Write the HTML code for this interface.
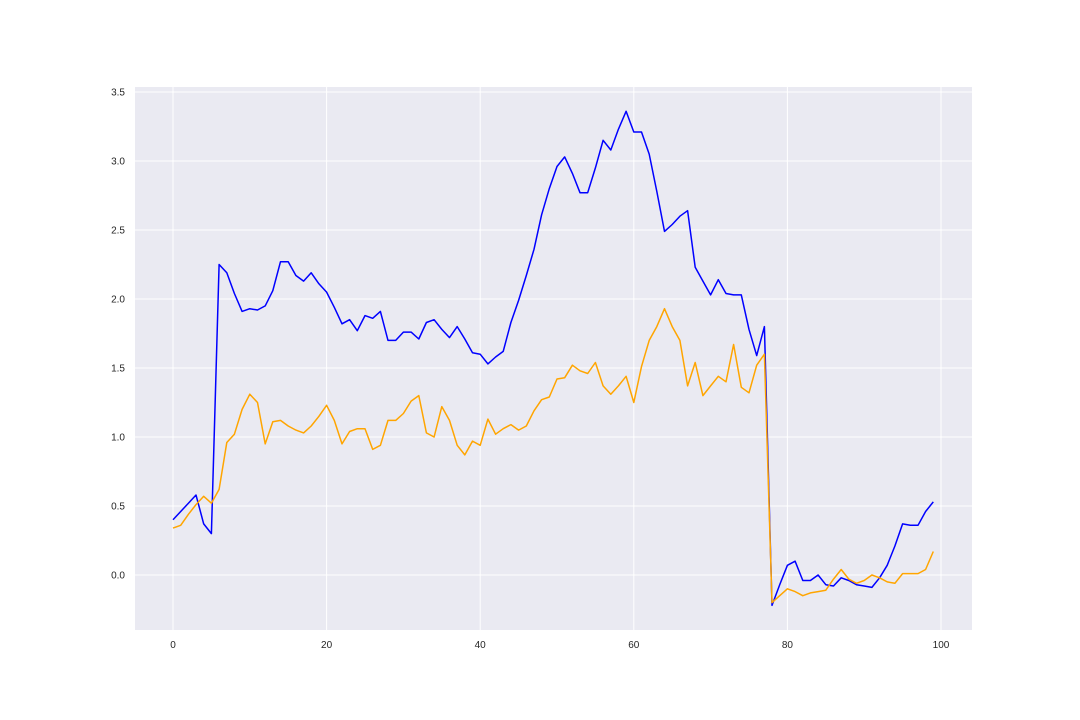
<!DOCTYPE html>
<html><head><meta charset="utf-8"><style>
body{margin:0;background:#fff;}
svg{display:block;font-family:"Liberation Sans","DejaVu Sans",sans-serif;}
</style></head><body>
<svg id="chart" width="1080" height="720">
<rect x="135" y="87" width="837" height="543" fill="#eaeaf2"/>
<g id="grid"></g><g id="ticks"></g><g id="lines"></g>
</svg>
<script>
const xTicks=[0,20,40,60,80,100];
const yTicks=[0.0,0.5,1.0,1.5,2.0,2.5,3.0,3.5];
const blueValues=[0.40,0.46,0.52,0.58,0.37,0.30,2.25,2.19,2.04,1.91,1.93,1.92,1.95,2.06,2.27,2.27,2.17,2.13,2.19,2.11,2.05,1.94,1.82,1.85,1.77,1.88,1.86,1.91,1.70,1.70,1.76,1.76,1.71,1.83,1.85,1.78,1.72,1.80,1.71,1.61,1.60,1.53,1.58,1.62,1.83,1.99,2.17,2.36,2.61,2.80,2.96,3.03,2.91,2.77,2.77,2.95,3.15,3.08,3.23,3.36,3.21,3.21,3.05,2.78,2.49,2.54,2.60,2.64,2.23,2.13,2.03,2.14,2.04,2.03,2.03,1.78,1.59,1.80,-0.22,-0.07,0.07,0.10,-0.04,-0.04,0.00,-0.07,-0.08,-0.02,-0.04,-0.07,-0.08,-0.09,-0.02,0.07,0.21,0.37,0.36,0.36,0.46,0.53];
const orangeValues=[0.34,0.36,0.44,0.51,0.57,0.52,0.62,0.96,1.02,1.20,1.31,1.25,0.95,1.11,1.12,1.08,1.05,1.03,1.08,1.15,1.23,1.12,0.95,1.04,1.06,1.06,0.91,0.94,1.12,1.12,1.17,1.26,1.30,1.03,1.00,1.22,1.12,0.94,0.87,0.97,0.94,1.13,1.02,1.06,1.09,1.05,1.08,1.19,1.27,1.29,1.42,1.43,1.52,1.48,1.46,1.54,1.37,1.31,1.37,1.44,1.25,1.51,1.70,1.80,1.93,1.80,1.70,1.37,1.54,1.30,1.37,1.44,1.40,1.67,1.36,1.32,1.52,1.60,-0.20,-0.15,-0.10,-0.12,-0.15,-0.13,-0.12,-0.11,-0.03,0.04,-0.03,-0.06,-0.04,0.00,-0.02,-0.05,-0.06,0.01,0.01,0.01,0.04,0.17];
const NS="http://www.w3.org/2000/svg";
function xs(v){return 173+v*7.68;}
function ys(v){return 575-v*138;}
function mk(tag,attrs,parent){const e=document.createElementNS(NS,tag);for(const k in attrs)e.setAttribute(k,attrs[k]);document.getElementById(parent).appendChild(e);return e;}
xTicks.forEach(t=>{
  const l=mk('line',{x1:xs(t),x2:xs(t),y1:87,y2:630,stroke:'#fff','stroke-width':1},'grid');
  
  
  const tx=mk('text',{x:xs(t),y:648,'text-anchor':'middle','font-size':10,fill:'#262626'},'ticks');
  tx.textContent=t;
  
  
});
yTicks.forEach(t=>{
  const l=mk('line',{x1:135,x2:972,y1:ys(t),y2:ys(t),stroke:'#fff','stroke-width':1},'grid');
  
  
  const tx=mk('text',{x:125,y:ys(t)+3.5,'text-anchor':'end','font-size':10,fill:'#262626'},'ticks');
  tx.textContent=t.toFixed(1);
  
  
});
function path(vals,color,name){
  const d=vals.map((v,i)=>(i?'L':'M')+xs(i).toFixed(1)+','+ys(v).toFixed(1)).join('');
  const p=mk('path',{d:d,fill:'none',stroke:color,'stroke-width':1.5,'stroke-linejoin':'round'},'lines');
  
  
}
path(blueValues,'#0000ff','blue-series-line');
path(orangeValues,'#ffa500','orange-series-line');
</script>
</body></html>
